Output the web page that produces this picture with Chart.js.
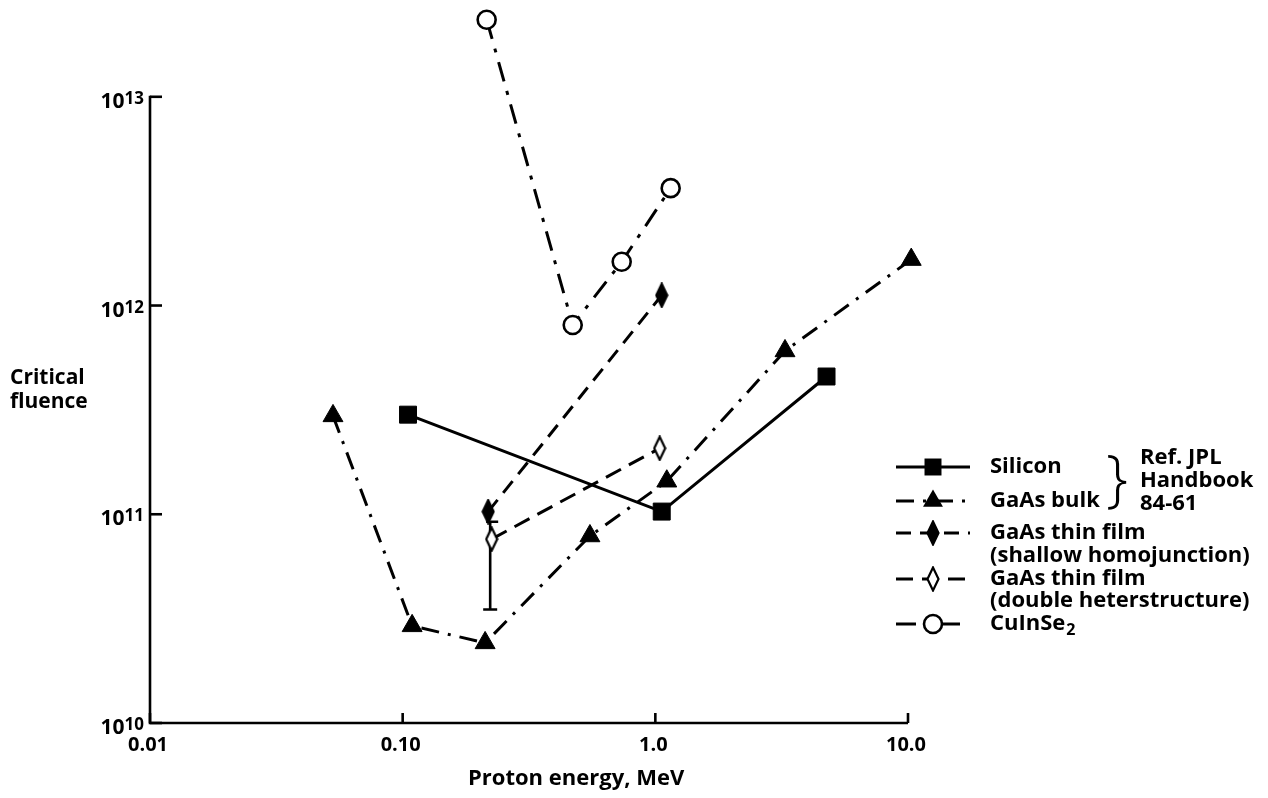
<!DOCTYPE html>
<html><head><meta charset="utf-8">
<script src="https://cdn.jsdelivr.net/npm/chart.js@4"></script>
<style>html,body{margin:0;padding:0;background:#fff;} #c{display:block;}</style>
</head><body>
<canvas id="c" width="1268" height="798" style="width:1268px;height:798px"></canvas>
<script>
// ---------- data ----------
const energyTicks = [0.01, 0.1, 1, 10];
const energyTickLabels = ['0.01', '0.10', '1.0', '10.0'];
const fluenceTicks = [1e10, 1e11, 1e12, 1e13];
const fluenceTickExps = ['10', '11', '12', '13'];

const siliconE = [0.105, 1.06, 4.76];
const siliconF = [3.0e11, 1.03e11, 4.57e11];
const gaasBulkE = [0.053, 0.109, 0.212, 0.551, 1.11, 3.26, 10.3];
const gaasBulkF = [2.96e11, 2.92e10, 2.42e10, 7.87e10, 1.44e11, 6.06e11, 1.66e12];
const shallowE = [0.218, 1.06];
const shallowF = [1.03e11, 1.12e12];
const doubleE = [0.225, 1.04];
const doubleF = [7.6e10, 2.07e11];
const doubleErrE = [0.222];
const doubleErrLow = [3.5e10];
const doubleErrHigh = [9.2e10];
const cisE = [0.215, 0.471, 0.736, 1.15];
const cisF = [2.34e13, 8.07e11, 1.62e12, 3.65e12];

const seriesNames = ['Silicon', 'GaAs bulk', 'GaAs thin film\n(shallow homojunction)', 'GaAs thin film\n(double heterstructure)', 'CuInSe|2'];
const refLines = ['Ref. JPL', 'Handbook', '84-61'];
const xTitle = 'Proton energy, MeV';
const yTitleLines = ['Critical', 'fluence'];

// ---------- helpers ----------
const FONT = '"Open Sans", "Noto Sans", sans-serif';
const pts = (xs, ys) => xs.map((v, i) => ({x: v, y: ys[i]}));

function diamond(filled) {
  const c = document.createElement('canvas');
  c.width = 14; c.height = 26;
  const g = c.getContext('2d');
  g.beginPath();
  g.moveTo(7, 1.5); g.lineTo(12.5, 13); g.lineTo(7, 24.5); g.lineTo(1.5, 13); g.closePath();
  g.fillStyle = filled ? '#000' : '#fff';
  g.fill();
  g.lineWidth = 2.2; g.strokeStyle = '#000'; g.stroke();
  return c;
}
const diamondFilled = diamond(true);
const diamondOpen = diamond(false);

const common = {showLine: true, clip: false, borderColor: '#000', borderWidth: 3,
  pointBorderColor: '#000', tension: 0, borderCapStyle: 'butt', pointHoverRadius: 0};

const datasets = [
  Object.assign({}, common, {label: 'Silicon', data: pts(siliconE, siliconF), pointStyle: 'rect',
    pointRadius: 12, pointBackgroundColor: '#000', pointBorderWidth: 1, borderDash: []}),
  Object.assign({}, common, {label: 'GaAs bulk', data: pts(gaasBulkE, gaasBulkF), pointStyle: 'triangle',
    pointRadius: 11.5, pointBackgroundColor: '#000', pointBorderWidth: 1, borderDash: [18, 9, 3, 9]}),
  Object.assign({}, common, {label: 'shallow', data: pts(shallowE, shallowF), pointStyle: diamondFilled,
    pointRadius: 10, borderDash: [15, 9]}),
  Object.assign({}, common, {label: 'double', data: pts(doubleE, doubleF), pointStyle: diamondOpen,
    pointRadius: 10, borderDash: [17, 9]}),
  Object.assign({}, common, {label: 'CuInSe2', data: pts(cisE, cisF), pointStyle: 'circle',
    pointRadius: 9, pointBackgroundColor: '#fff', pointBorderWidth: 2.6, borderDash: [20, 10, 4, 10]})
];

function marker(ctx, ds, x, y) {
  const st = ds.pointStyle, r = ds.pointRadius;
  ctx.save();
  ctx.setLineDash([]);
  ctx.strokeStyle = '#000';
  if (st instanceof HTMLCanvasElement) {
    ctx.drawImage(st, x - st.width / 2, y - st.height / 2);
  } else if (st === 'rect') {
    const s = r * Math.SQRT1_2;
    ctx.fillStyle = '#000'; ctx.fillRect(x - s, y - s, 2 * s, 2 * s);
  } else if (st === 'triangle') {
    ctx.beginPath();
    for (let k = 0; k < 3; k++) {
      const a = k * 2 * Math.PI / 3;
      const px = x + Math.sin(a) * r, py = y - Math.cos(a) * r;
      k ? ctx.lineTo(px, py) : ctx.moveTo(px, py);
    }
    ctx.closePath(); ctx.fillStyle = '#000'; ctx.fill();
  } else if (st === 'circle') {
    ctx.beginPath(); ctx.arc(x, y, r, 0, Math.PI * 2);
    ctx.fillStyle = '#fff'; ctx.fill(); ctx.lineWidth = ds.pointBorderWidth; ctx.stroke();
  }
  ctx.restore();
}

const decor = {
  id: 'decor',
  beforeDatasetsDraw(chart) {
    const {ctx, scales: {x, y}} = chart;
    ctx.save();
    ctx.strokeStyle = '#000'; ctx.lineWidth = 2.6;
    for (let i = 0; i < doubleErrE.length; i++) {
      const px = x.getPixelForValue(doubleErrE[i]);
      const lo = y.getPixelForValue(doubleErrLow[i]);
      const hi = y.getPixelForValue(doubleErrHigh[i]);
      ctx.beginPath();
      ctx.moveTo(px, lo); ctx.lineTo(px, hi);
      ctx.moveTo(px - 7, lo); ctx.lineTo(px + 7, lo);
      ctx.moveTo(px - 4, hi); ctx.lineTo(px + 8, hi);
      ctx.stroke();
    }
    ctx.restore();
  },
  afterDraw(chart) {
    const {ctx, chartArea: ca, scales: {x, y}} = chart;
    const yTop = y.getPixelForValue(fluenceTicks[fluenceTicks.length - 1]);
    const xRight = x.getPixelForValue(energyTicks[energyTicks.length - 1]);
    ctx.save();
    ctx.strokeStyle = '#000'; ctx.fillStyle = '#000'; ctx.setLineDash([]);
    // axes
    ctx.lineWidth = 2.6;
    ctx.beginPath();
    ctx.moveTo(ca.left, yTop - 1); ctx.lineTo(ca.left, ca.bottom);
    ctx.lineTo(xRight, ca.bottom);
    ctx.stroke();
    // ticks (inward)
    fluenceTicks.forEach(v => {
      const py = y.getPixelForValue(v);
      ctx.beginPath(); ctx.moveTo(ca.left, py); ctx.lineTo(ca.left + 12, py); ctx.stroke();
    });
    energyTicks.forEach(v => {
      const px = x.getPixelForValue(v);
      ctx.beginPath(); ctx.moveTo(px, ca.bottom); ctx.lineTo(px, ca.bottom - 10); ctx.stroke();
    });
    // x tick labels
    ctx.font = '700 20px ' + FONT;
    ctx.textAlign = 'center'; ctx.textBaseline = 'middle';
    energyTicks.forEach((v, i) => ctx.fillText(energyTickLabels[i], x.getPixelForValue(v) - 2, ca.bottom + 22));
    // y tick labels with superscript
    fluenceTicks.forEach((v, i) => {
      const py = y.getPixelForValue(v);
      ctx.textAlign = 'right'; ctx.textBaseline = 'alphabetic';
      ctx.font = '700 17px ' + FONT;
      const w = ctx.measureText(fluenceTickExps[i]).width;
      ctx.fillText(fluenceTickExps[i], ca.left - 6, py + 7);
      ctx.font = '700 21px ' + FONT;
      ctx.fillText('10', ca.left - 6 - w, py + 11);
    });
    // axis titles
    ctx.font = '700 22px ' + FONT;
    ctx.textAlign = 'left'; ctx.textBaseline = 'middle';
    ctx.fillText(xTitle, 468, 779);
    ctx.font = '700 21px ' + FONT;
    ctx.fillText(yTitleLines[0], 10, 378);
    ctx.fillText(yTitleLines[1], 10, 402);
    // legend
    const rows = [467, 501, 533, 579, 624];
    const textRows = [[467], [501], [533, 556], [579, 601], [624]];
    ctx.font = '700 22px ' + FONT;
    datasets.forEach((ds, i) => {
      const ly = rows[i];
      ctx.save();
      ctx.lineWidth = ds.borderWidth; ctx.setLineDash(ds.borderDash);
      ctx.beginPath(); ctx.moveTo(896, ly); ctx.lineTo(970, ly); ctx.stroke();
      ctx.restore();
      marker(ctx, ds, 933, ly);
      const name = seriesNames[i];
      ctx.textAlign = 'left'; ctx.textBaseline = 'middle';
      if (name.includes('|')) {
        const [main, sub] = name.split('|');
        ctx.font = '700 22px ' + FONT;
        ctx.fillText(main, 990, textRows[i][0]);
        const mw = ctx.measureText(main).width;
        ctx.font = '700 16px ' + FONT;
        ctx.fillText(sub, 990 + mw + 1, textRows[i][0] + 6);
        ctx.font = '700 22px ' + FONT;
      } else {
        name.split('\n').forEach((t, k) => ctx.fillText(t, 990, textRows[i][k]));
      }
    });
    // brace + reference
    ctx.font = '300 62px ' + FONT;
    ctx.textAlign = 'center';
    ctx.fillText('}', 1117, 482);
    ctx.font = '700 22px ' + FONT;
    ctx.textAlign = 'left';
    refLines.forEach((t, k) => ctx.fillText(t, 1140, 458 + k * 23));
    ctx.restore();
  }
};

new Chart(document.getElementById('c'), {
  type: 'scatter',
  data: {datasets},
  options: {
    responsive: false, animation: false, devicePixelRatio: 1,
    layout: {padding: {left: 150, right: 360, top: 13, bottom: 75}},
    plugins: {legend: {display: false}, tooltip: {enabled: false}},
    events: [],
    scales: {
      x: {type: 'logarithmic', bounds: 'data', min: 0.01, max: 10, display: false},
      y: {type: 'logarithmic', bounds: 'data', min: 1e10, max: 2.52e13, display: false}
    }
  },
  plugins: [decor]
});
</script>
</body></html>
